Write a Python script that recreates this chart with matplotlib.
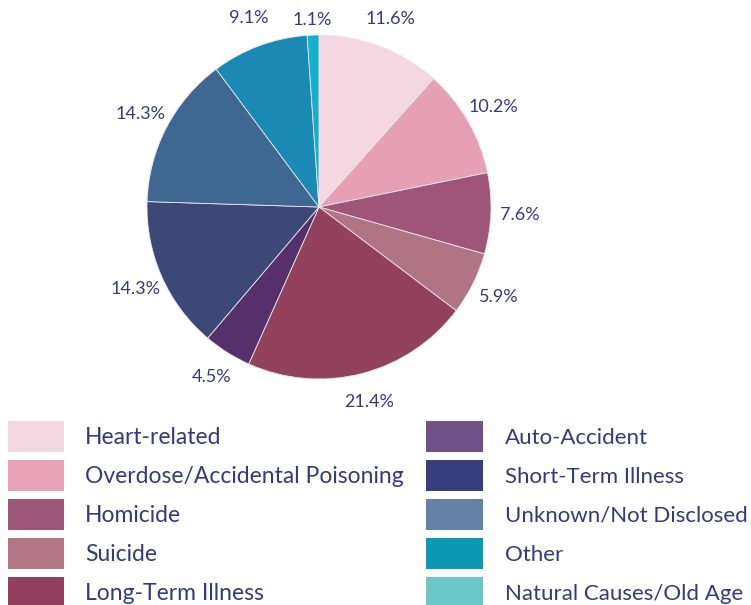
import matplotlib
matplotlib.use("Agg")
import matplotlib.pyplot as plt
from matplotlib.patches import Patch

# causes of death, clockwise from 12 o'clock
labels = ["Heart-related", "Overdose/Accidental Poisoning", "Homicide", "Suicide",
          "Long-Term Illness", "Auto-Accident", "Short-Term Illness",
          "Unknown/Not Disclosed", "Other", "Natural Causes/Old Age"]
shares = [11.6, 10.2, 7.6, 5.9, 21.4, 4.5, 14.3, 14.3, 9.1, 1.1]

pie_colors = ["#f5d7e1", "#e6a0b6", "#9e5577", "#b07485", "#93425e",
              "#56306a", "#3d4878", "#3e6892", "#1a8ab5", "#13afcf"]
legend_colors = ["#f5d7e1", "#e8a1b6", "#9d5778", "#b27687", "#933f5e",
                 "#6f5187", "#383d80", "#6481a8", "#0c9ab3", "#6ac8c8"]

text_color = "#343a80"
plt.rcParams['font.family'] = ['Lato', 'DejaVu Sans']

W, H = 751, 605
fig = plt.figure(figsize=(W / 100, H / 100), dpi=100)

# pie axes: centre (319, 207) px, radius 172 px
cx, cy, r = 319, 207, 172
ax = fig.add_axes([(cx - r) / W, (H - cy - r) / H, 2 * r / W, 2 * r / H])
wedges, texts, autotexts = ax.pie(
    shares, colors=pie_colors, startangle=90, counterclock=False,
    autopct=lambda p: f"{p:.1f}%", pctdistance=1.17,
    wedgeprops=dict(edgecolor="#e8e8ee", linewidth=0.6),
    textprops=dict(color=text_color, fontsize=13))
# the tiny last slice has its label pulled in a little
x, y = autotexts[-1].get_position()
autotexts[-1].set_position((x * 0.93, y * 0.93))
ax.set_xlim(-1, 1)
ax.set_ylim(-1, 1)
ax.set_aspect("equal")

handles = [Patch(facecolor=c, edgecolor="none") for c in legend_colors]
common = dict(frameon=False, borderpad=0, borderaxespad=0,
              labelcolor=text_color, loc="upper left")
fig.legend(handles[:5], labels[:5], bbox_to_anchor=(8 / W, 1 - 421 / H),
           fontsize=16.5, handlelength=2.44, handleheight=1.70,
           handletextpad=0.92, labelspacing=0.35, **common)
fig.legend(handles[5:], labels[5:], bbox_to_anchor=(426 / W, 1 - 421 / H),
           fontsize=16, handlelength=2.57, handleheight=1.77,
           handletextpad=0.99, labelspacing=0.36, **common)

fig.savefig("out.png", dpi=100)
